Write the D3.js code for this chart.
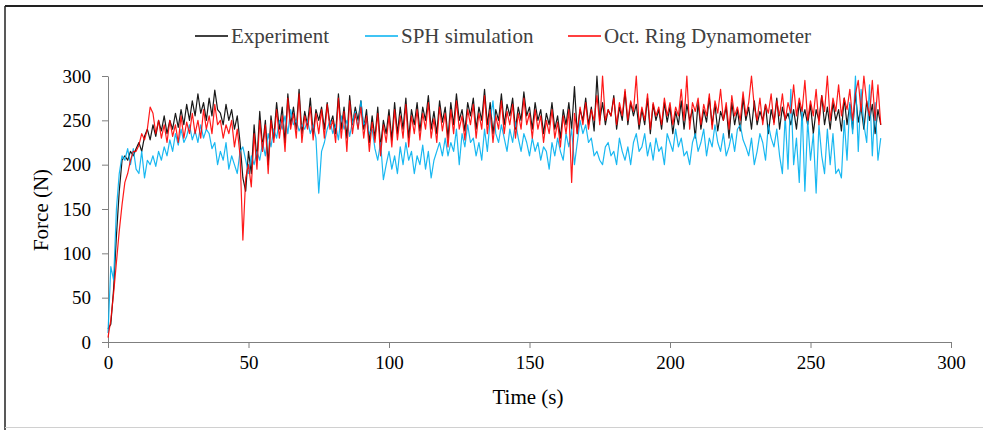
<!DOCTYPE html>
<html>
<head>
  <meta charset="utf-8">
  <title>Force vs time</title>
  <style>
    body { margin: 0; background: #fff; }
    svg { display: block; }
    text { font-family: "Liberation Serif", "Times New Roman", serif; }
  </style>
</head>
<body>
  <svg width="983" height="430"></svg>
  <script src="https://cdn.jsdelivr.net/npm/d3@7"></script>
  <script>
  // data: one value per second, t = 0 .. 275
  var experiment = [
    15, 20, 60, 120, 170, 205, 210, 205, 215, 210,
    218, 225, 215, 232, 240, 228, 245, 232, 250, 238,
    255, 235, 250, 240, 258, 242, 262, 245, 268, 250,
    272, 255, 280, 258, 270, 250, 275, 255, 284, 262,
    258, 245, 268, 250, 262, 240, 255, 225, 185, 170,
    215, 190, 245, 205, 260, 220, 250, 200, 255, 230,
    270, 240, 265, 225, 280, 245, 265, 240, 285, 235,
    260, 245, 275, 235, 262, 250, 265, 240, 270, 245,
    255, 235, 280, 240, 265, 230, 278, 245, 265, 250,
    272, 240, 262, 225, 255, 230, 265, 220, 250, 235,
    262, 228, 270, 235, 265, 240, 275, 230, 262, 245,
    270, 238, 265, 250, 278, 240, 260, 235, 272, 248,
    265, 230, 270, 245, 280, 250, 262, 238, 270, 255,
    275, 240, 265, 250, 285, 245, 270, 235, 262, 250,
    280, 245, 268, 255, 275, 240, 265, 250, 282, 255,
    265, 240, 270, 250, 262, 235, 258, 245, 270, 240,
    255, 230, 262, 245, 270, 240, 288, 235, 262, 250,
    275, 245, 265, 238, 300, 250, 270, 245, 262, 255,
    278, 240, 265, 250, 282, 245, 270, 255, 268, 240,
    262, 245, 275, 235, 268, 250, 262, 240, 270, 248,
    265, 235, 260, 245, 272, 240, 268, 250, 262, 230,
    270, 240, 262, 248, 275, 245, 268, 238, 260, 250,
    265, 230, 270, 245, 262, 238, 275, 250, 265, 240,
    272, 245, 260, 250, 268, 235, 262, 248, 275, 240,
    265, 250, 258, 245, 262, 240, 270, 250, 262, 245,
    268, 235, 262, 250, 278, 245, 265, 240, 270, 250,
    262, 238, 275, 245, 268, 240, 280, 248, 265, 240,
    272, 250, 268, 235, 262, 245
  ];
  var sph = [
    10, 85, 70, 150, 190, 210, 205, 218, 200, 218,
    195, 190, 215, 185, 205, 200, 210, 198, 215, 205,
    220, 210, 228, 215, 235, 222, 240, 225, 232, 245,
    228, 238, 225, 245, 230, 240, 235, 218, 225, 200,
    215, 205, 225, 195, 210, 200, 190, 215, 220, 205,
    190, 210, 200, 215, 205, 225, 210, 235, 220, 240,
    230, 250, 240, 255, 235, 262, 245, 250, 238, 245,
    240, 250, 235, 245, 230, 168, 215, 225, 240, 250,
    235, 245, 228, 255, 240, 250, 232, 248, 260, 240,
    272, 245, 250, 235, 240, 218, 205, 225, 183, 200,
    215, 195, 210, 190, 220, 200, 225, 205, 215, 190,
    210, 200, 222, 195, 215, 185, 205, 215, 225, 210,
    230, 210, 225, 215, 240, 200, 235, 220, 245, 225,
    230, 210, 225, 205, 240, 215, 250, 272, 235, 225,
    245, 230, 215, 240, 225, 248, 230, 215, 235, 225,
    210, 230, 215, 225, 205, 220, 215, 195, 225, 210,
    230, 215, 205, 235, 220, 240, 200, 225, 250, 235,
    245, 225, 230, 210, 215, 205, 200, 220, 225, 210,
    215, 200, 230, 215, 205, 220, 200, 225, 235, 215,
    220, 235, 210, 225, 205, 230, 215, 220, 200, 235,
    225, 215, 240, 220, 230, 210, 215, 200, 225, 235,
    215, 225, 240, 210, 230, 220, 245, 225, 215, 235,
    210, 220, 235, 215, 240, 245, 228, 220, 210, 230,
    200, 215, 235, 225, 205, 245, 230, 220, 240, 210,
    190, 255, 195, 285, 200, 230, 180, 265, 170, 250,
    205, 235, 168, 245, 210, 190, 240, 200, 235, 190,
    195, 185, 250, 205, 270, 235, 300, 215, 285, 245,
    225, 290, 210, 270, 205, 230
  ];
  var octRing = [
    5, 25, 55, 90, 125, 155, 180, 190, 205, 215,
    215, 222, 235, 228, 240, 265, 258, 235, 250, 230,
    245, 225, 250, 232, 245, 225, 255, 230, 248, 235,
    258, 235, 250, 230, 262, 240, 255, 235, 268, 245,
    250, 230, 245, 235, 250, 220, 240, 210, 115, 185,
    200, 175, 235, 195, 250, 215, 245, 190, 250, 225,
    262, 230, 255, 215, 275, 240, 258, 230, 280, 225,
    255, 240, 265, 228, 258, 235, 262, 230, 268, 240,
    250, 225, 275, 230, 260, 215, 272, 235, 258, 240,
    265, 230, 255, 215, 248, 225, 258, 210, 245, 225,
    255, 220, 262, 228, 255, 230, 268, 220, 255, 235,
    262, 228, 258, 240, 270, 230, 252, 225, 265, 238,
    258, 220, 262, 235, 272, 240, 255, 228, 262, 245,
    268, 230, 258, 240, 278, 235, 262, 225, 255, 240,
    272, 235, 260, 245, 268, 230, 258, 240, 275, 245,
    258, 230, 262, 240, 255, 225, 250, 235, 262, 230,
    248, 220, 255, 235, 262, 180, 258, 235, 265, 245,
    270, 240, 262, 250, 278, 245, 300, 250, 262, 255,
    275, 245, 270, 255, 285, 250, 272, 260, 300, 245,
    265, 250, 280, 240, 270, 255, 265, 245, 275, 255,
    270, 245, 265, 255, 285, 250, 300, 240, 270, 260,
    275, 245, 268, 255, 280, 240, 272, 258, 285, 250,
    270, 240, 278, 255, 265, 250, 282, 255, 270, 300,
    265, 250, 275, 245, 268, 258, 280, 245, 272, 255,
    280, 250, 270, 258, 290, 255, 275, 260, 295, 250,
    272, 255, 285, 245, 278, 260, 300, 250, 275, 260,
    290, 255, 275, 262, 285, 250, 280, 295, 260, 300,
    270, 255, 295, 250, 290, 245
  ];
  var xTicks = [0, 50, 100, 150, 200, 250, 300];
  var yTicks = [0, 50, 100, 150, 200, 250, 300];

  var series = [
    { name: "Experiment", values: experiment, color: "#000000" },
    { name: "SPH simulation", values: sph, color: "#00b0f0" },
    { name: "Oct. Ring Dynamometer", values: octRing, color: "#ff0000" }
  ];

  var svg = d3.select("svg");

  // frame of the picture
  svg.append("line").attr("x1", 5).attr("y1", 6).attr("x2", 983).attr("y2", 6)
    .attr("stroke", "#222").attr("stroke-width", 2);
  svg.append("line").attr("x1", 5).attr("y1", 6).attr("x2", 5).attr("y2", 430)
    .attr("stroke", "#222").attr("stroke-width", 1.5);
  svg.append("line").attr("x1", 5).attr("y1", 427.5).attr("x2", 983).attr("y2", 427.5)
    .attr("stroke", "#d0d0d0").attr("stroke-width", 1);

  var x = d3.scaleLinear().domain([0, 300]).range([108, 951]);
  var y = d3.scaleLinear().domain([0, 300]).range([342, 76]);

  var xAxis = svg.append("g")
    .attr("transform", "translate(0,342)")
    .call(d3.axisBottom(x).tickValues(xTicks).tickSize(6).tickSizeOuter(0).tickPadding(8));
  var yAxis = svg.append("g")
    .attr("transform", "translate(108,0)")
    .call(d3.axisLeft(y).tickValues(yTicks).tickSize(6).tickSizeOuter(0).tickPadding(11));

  [xAxis, yAxis].forEach(function(g) {
    g.select(".domain").attr("stroke", "#7f7f7f");
    g.selectAll(".tick line").attr("stroke", "#7f7f7f");
    g.selectAll(".tick text")
      .attr("fill", "#000")
      .style("font-family", "Liberation Serif")
      .style("font-size", "19px");
  });

  // lines
  var line = d3.line()
    .x(function(d, i) { return x(i); })
    .y(function(d) { return y(d); });

  svg.append("g").selectAll("path")
    .data(series)
    .enter()
    .append("path")
    .attr("d", function(d) { return line(d.values); })
    .attr("fill", "none")
    .attr("stroke", function(d) { return d.color; })
    .attr("stroke-width", 1.2)
    .attr("stroke-opacity", 0.9)
    .attr("stroke-linejoin", "round");

  // axis titles
  svg.append("text")
    .attr("x", 528).attr("y", 404)
    .attr("text-anchor", "middle")
    .style("font-size", "21px")
    .text("Time (s)");
  svg.append("text")
    .attr("transform", "translate(48,210) rotate(-90)")
    .attr("text-anchor", "middle")
    .style("font-size", "21px")
    .text("Force (N)");

  // legend
  var legendX = [195, 365, 568];
  var legend = svg.append("g").selectAll("g")
    .data(series)
    .enter()
    .append("g")
    .attr("transform", function(d, i) { return "translate(" + legendX[i] + ",36)"; });
  legend.append("line")
    .attr("x1", 0).attr("x2", 33).attr("y1", 0).attr("y2", 0)
    .attr("stroke", function(d) { return d.color; })
    .attr("stroke-width", 1.5);
  legend.append("text")
    .attr("x", 36).attr("y", 7)
    .attr("fill", "#404040")
    .style("font-size", "21px")
    .text(function(d) { return d.name; });
  </script>
</body>
</html>
